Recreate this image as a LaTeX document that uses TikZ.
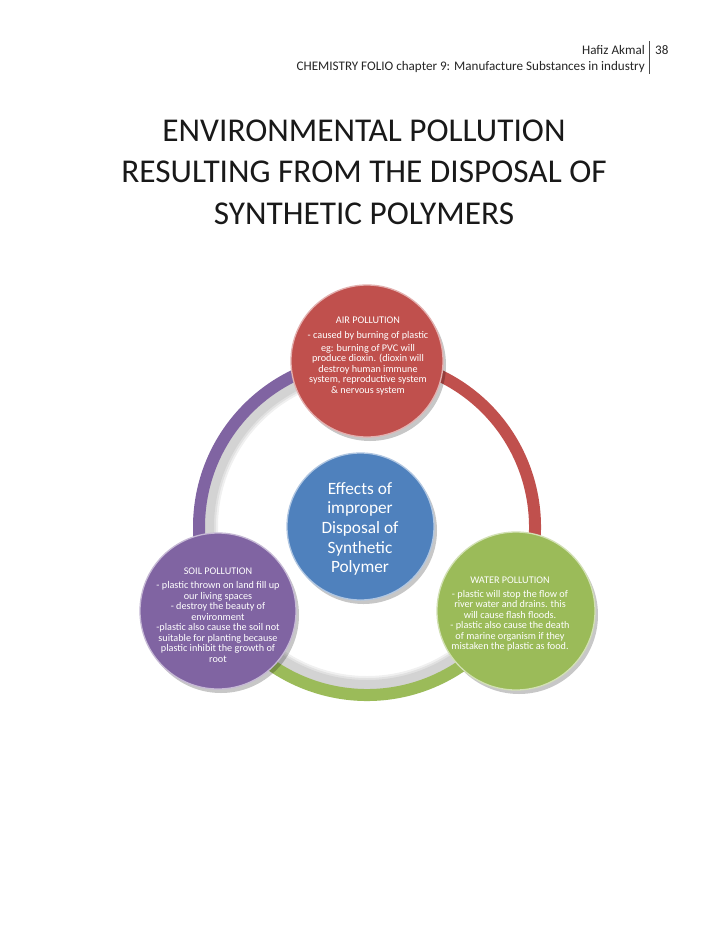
\documentclass[tikz,border=0pt]{standalone}
\usepackage{fontspec}
\setmainfont{Carlito}
\usetikzlibrary{shadows}
\definecolor{cred}{HTML}{C0504D}
\definecolor{cblue}{HTML}{4F81BD}
\definecolor{cpurple}{HTML}{8064A2}
\definecolor{cgreen}{HTML}{9BBB59}
\begin{document}
\begin{tikzpicture}[x=1pt,y=-1pt,
  hdr/.style={font=\fontsize{13.1}{15}\selectfont, text=black!85, inner sep=0pt},
  ringarc/.style={line width=12pt},
  ringshadow/.style={line width=16pt, draw=black, opacity=0.06},
  bubble/.style={circle, inner sep=0pt, line width=1.3pt,
     drop shadow={shadow xshift=3pt, shadow yshift=-4pt, opacity=0.22, fill=black}},
  smalltxt/.style={align=center, text=white, inner sep=0pt, font=\fontsize{10.2}{10.5}\selectfont},
  bigtxt/.style={align=center, text=white, inner sep=0pt, font=\fontsize{17.3}{19.7}\selectfont}
]
\useasboundingbox (0,0) rectangle (728,943);
\fill[white] (0,0) rectangle (728,943);

% header
\node[hdr, anchor=base east] (author) at (645,54) {Hafiz Akmal};
\node[hdr, anchor=base east] (chapter) at (645,70) {CHEMISTRY FOLIO chapter 9: Manufacture Substances in industry};
\node[hdr, anchor=base west] (page) at (655,54) {38};
\coordinate (sepTop) at (649,41);
\coordinate (sepBot) at (649,74);
\draw[black!70, line width=0.6pt] (sepTop) -- (sepBot);

% title
\node[align=center, font=\fontsize{33.3}{41.5}\selectfont, text=black!90, inner sep=0pt] (title) at (364,172)
  {ENVIRONMENTAL POLLUTION\\RESULTING FROM THE DISPOSAL OF\\SYNTHETIC POLYMERS};

% ring
\coordinate (ring) at (367,527);
\foreach \r in {157, 159, 161}{
  \draw[ringshadow] ([shift={(270:\r)}]ring) arc[start angle=270, end angle=30, radius=\r];
}
\draw[ringarc, draw=cpurple] ([shift={(270:168)}]ring) arc[start angle=270, end angle=150, radius=168];
\draw[ringarc, draw=cgreen] ([shift={(150:168)}]ring) arc[start angle=150, end angle=30, radius=168];
\draw[ringarc, draw=cred] ([shift={(30:168)}]ring) arc[start angle=30, end angle=-90, radius=168];

% circles
\node[bubble, minimum size=152pt, fill=cred, draw=cred!45!white] (air) at (367,361) {};
\node[bubble, minimum size=147pt, fill=cblue, draw=cblue!45!white] (center) at (360.5,526.5) {};
\node[bubble, minimum size=156pt, fill=cpurple, draw=cpurple!45!white] (soil) at (218,611) {};
\node[bubble, minimum size=158pt, fill=cgreen, draw=cgreen!45!white] (water) at (516,611) {};

% texts
\node[smalltxt] (airtxt) at (368,356)
  {AIR POLLUTION\\[4pt]- caused by burning of plastic\\[2.5pt]eg: burning of PVC will\\produce dioxin. (dioxin will\\destroy human immune\\system, reproductive system\\\& nervous system};
\node[bigtxt] (centertxt) at (360,529)
  {Effects of\\improper\\Disposal of\\Synthetic\\Polymer};
\node[smalltxt] (soiltxt) at (218,615)
  {SOIL POLLUTION\\[3.5pt]- plastic thrown on land fill up\\our living spaces\\- destroy the beauty of\\environment\\-plastic also cause the soil not\\suitable for planting because\\plastic inhibit the growth of\\root};
\node[smalltxt] (watertxt) at (510,614)
  {WATER POLLUTION\\[3.5pt]- plastic will stop the flow of\\river water and drains. this\\will cause flash floods.\\- plastic also cause the death\\of marine organism if they\\mistaken the plastic as food.};
\end{tikzpicture}
\end{document}
